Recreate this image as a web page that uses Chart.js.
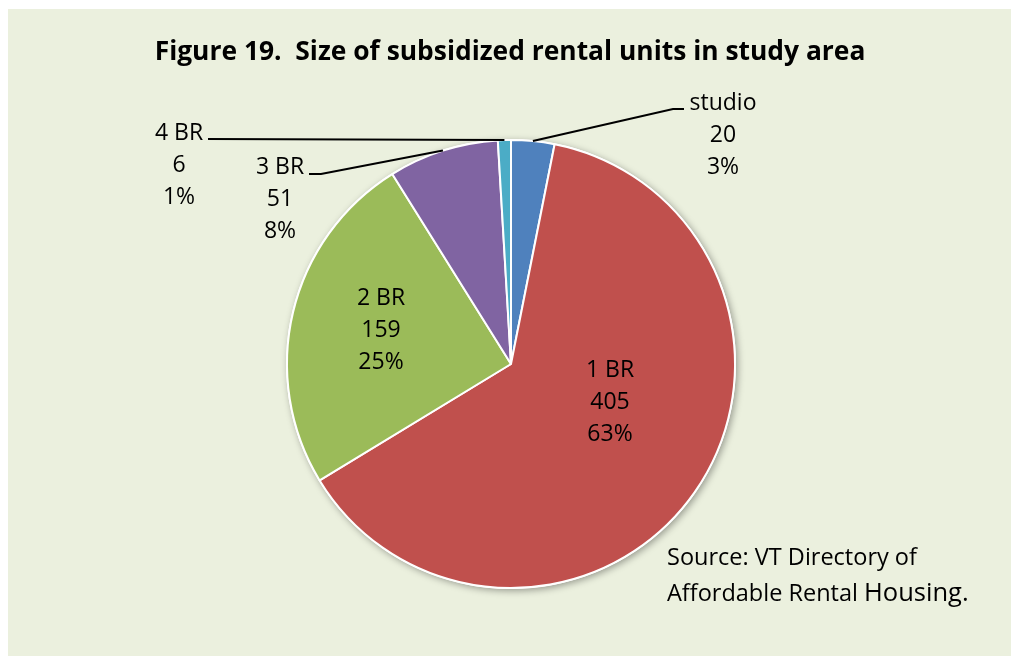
<!DOCTYPE html>
<html>
<head>
<meta charset="utf-8">
<script src="https://cdn.jsdelivr.net/npm/chart.js@4/dist/chart.umd.min.js"></script>
<style>
  html, body { margin: 0; padding: 0; background: #fff; }
  #chart-canvas { display: block; }
</style>
</head>
<body>
<canvas id="chart-canvas" width="1011" height="656"></canvas>
<script>
const categories = ['studio', '1 BR', '2 BR', '3 BR', '4 BR']
const units = [20, 405, 159, 51, 6]
const percents = ['3%', '63%', '25%', '8%', '1%']
const colors = ['#4F81BD', '#C0504D', '#9BBB59', '#8064A2', '#4BACC6']

const FONT = '"Open Sans", sans-serif'
const BG = '#EBF0DE'

// Where each label sits, relative to the pie centre (px). Outside labels
// get a leader line: arc edge -> elbow -> end, text block beside it.
const labelLayout = {
  'studio': { text: [212, -262], elbow: [162, -255], end: [173, -255] },
  '1 BR': { text: [99, 5] },
  '2 BR': { text: [-130, -67] },
  '3 BR': { text: [-231, -198], elbow: [-190, -190], end: [-202, -190] },
  '4 BR': { text: [-332, -232], elbow: [-303, -225], end: [-303, -225] }
}

const backdrop = {
  id: 'backdrop',
  beforeDraw (chart) {
    const { ctx, width, height } = chart
    ctx.save()
    ctx.fillStyle = BG
    ctx.fillRect(8, 9, width - 8, height - 9)
    ctx.restore()
  },
  beforeDatasetsDraw (chart) {
    // soft drop shadow under the whole pie
    const arc = chart.getDatasetMeta(0).data[0]
    const ctx = chart.ctx
    ctx.save()
    ctx.shadowColor = 'rgba(0,0,0,0.35)'
    ctx.shadowBlur = 7
    ctx.shadowOffsetX = 2
    ctx.shadowOffsetY = 2
    ctx.fillStyle = '#fff'
    ctx.beginPath()
    ctx.arc(arc.x, arc.y, arc.outerRadius + 1, 0, Math.PI * 2)
    ctx.fill()
    ctx.restore()
  }
}

const labels = {
  id: 'labels',
  afterDraw (chart) {
    const { ctx } = chart
    const meta = chart.getDatasetMeta(0)
    ctx.save()
    ctx.fillStyle = '#000'
    ctx.textAlign = 'center'
    ctx.textBaseline = 'middle'

    // title
    ctx.font = 'bold 26.4px ' + FONT
    ctx.fillText('Figure 19.  Size of subsidized rental units in study area', 510, 52)

    ctx.font = '23px ' + FONT
    meta.data.forEach((arc, i) => {
      const name = categories[i]
      const lay = labelLayout[name]
      const cx = arc.x
      const cy = arc.y
      if (lay.elbow) {
        const mid = (arc.startAngle + arc.endAngle) / 2
        const r = arc.outerRadius
        ctx.strokeStyle = '#000'
        ctx.lineWidth = 2
        ctx.beginPath()
        ctx.moveTo(cx + Math.cos(mid) * r, cy + Math.sin(mid) * r)
        ctx.lineTo(cx + lay.elbow[0], cy + lay.elbow[1])
        ctx.lineTo(cx + lay.end[0], cy + lay.end[1])
        ctx.stroke()
      }
      const lines = [name, String(units[i]), percents[i]]
      lines.forEach((t, j) => {
        ctx.fillText(t, cx + lay.text[0], cy + lay.text[1] + 1 + j * 32)
      })
    })

    // source note
    ctx.textAlign = 'left'
    ctx.font = '23.5px ' + FONT
    ctx.fillText('Source: VT Directory of', 667, 558)
    const part = 'Affordable Rental '
    ctx.fillText(part, 667, 594)
    const w = ctx.measureText(part).width
    ctx.font = '25.5px ' + FONT
    ctx.fillText('Housing.', 667 + w, 594)
    ctx.restore()
  }
}

const ctx = document.getElementById('chart-canvas')
new Chart(ctx, {
  type: 'pie',
  data: {
    labels: categories,
    datasets: [{
      data: units,
      backgroundColor: colors,
      borderColor: '#fff',
      borderWidth: 2
    }]
  },
  options: {
    responsive: false,
    animation: false,
    layout: {
      padding: { top: 139, bottom: 67, left: 285, right: 274 }
    },
    plugins: {
      legend: { display: false },
      tooltip: { enabled: false }
    }
  },
  plugins: [backdrop, labels]
})
</script>
</body>
</html>
